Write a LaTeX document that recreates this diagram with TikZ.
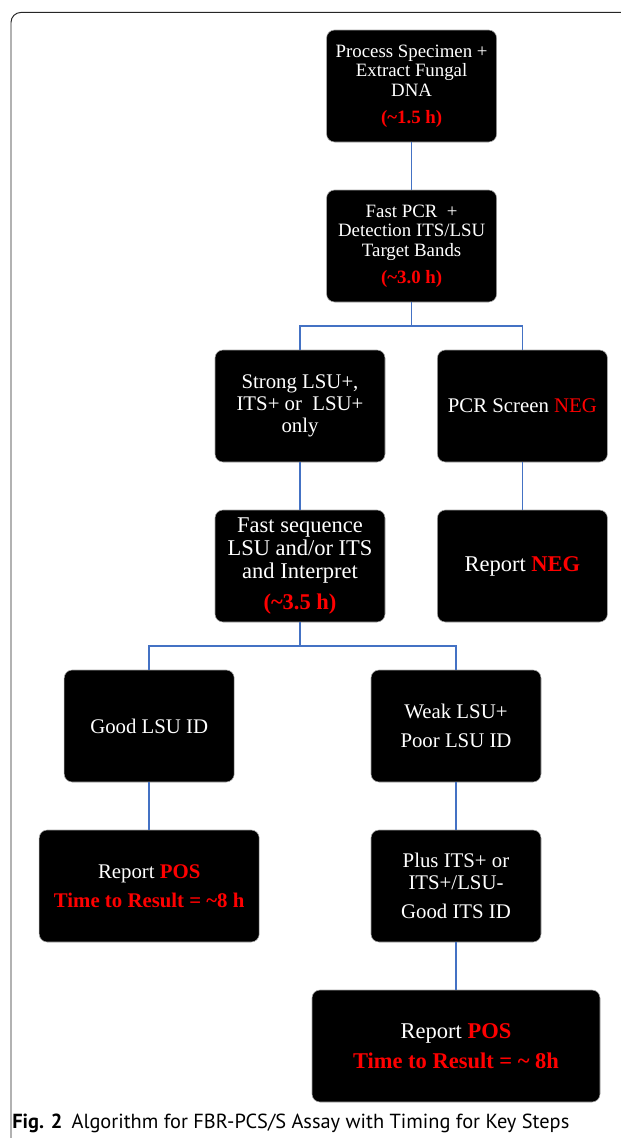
\documentclass[tikz,border=0pt]{standalone}
\usepackage{fontspec}
\setmainfont{Liberation Serif}
\newfontfamily\capfont{PT Sans}
\usetikzlibrary{shapes.geometric, arrows}
\usetikzlibrary{positioning}
\definecolor{linkblue}{HTML}{4472C4}
\definecolor{hotred}{HTML}{FF0000}
\newcommand{\fsTop}{\fontsize{13.4}{13.9}\selectfont}
\newcommand{\fsMid}{\fontsize{14.8}{15.6}\selectfont}
\newcommand{\fsBig}{\fontsize{16}{16.4}\selectfont}
\newcommand{\hrs}[1]{\textcolor{hotred}{\textbf{#1}}}
\tikzstyle{link} = [draw=linkblue, line width=1.25pt]
\tikzstyle{frame} = [draw=black!85, line width=0.7pt, rounded corners=0.25cm]
\tikzstyle{stage} = [rectangle, rounded corners=0.2cm, fill=black, draw=gray!70, line width=0.4pt, minimum width=4.25cm, minimum height=2.8cm, inner sep=0pt, text centered, align=center, text=white]

\begin{document}
\begin{tikzpicture}[node distance=4cm]
    \useasboundingbox (0,0) rectangle (15.525,-28.45);
    \draw [frame] (0.275,-29) -- (0.275,-0.31) -- (16,-0.31);

    \node (SPECIMEN) [stage, font=\fsTop] at (10.29,-2.15) {Process Specimen +\\Extract Fungal\\DNA\\[5pt]\hrs{(\textasciitilde1.5 h)}};
    \node (PCR) [stage, font=\fsTop, below of=SPECIMEN] {Fast PCR\ \ +\\Detection ITS/LSU\\Target Bands\\[5pt]\hrs{(\textasciitilde3.0 h)}};
    \node (STRONG) [stage, font=\fsMid, below of=PCR, xshift=-2.79cm] {Strong LSU+,\\ITS+ or\ \ LSU+\\only};
    \node (SCREENNEG) [stage, font=\fsMid, below of=PCR, xshift=2.77cm] {PCR Screen \textcolor{hotred}{NEG}};
    \node (SEQ) [stage, font=\fsBig, below of=STRONG] {Fast sequence\\LSU and/or ITS\\and Interpret\\[5.5pt]\hrs{(\textasciitilde3.5 h)}};
    \node (REPORTNEG) [stage, font=\fsBig, below of=SCREENNEG] {Report \hrs{NEG}};
    \node (GOODLSU) [stage, font=\fsMid, below of=SEQ, xshift=-3.77cm] {Good LSU ID};
    \node (WEAKLSU) [stage, font=\fsMid, below of=SEQ, xshift=3.9cm] {Weak LSU+\\[5pt]Poor LSU ID};
    \node (REPORTPOS) [stage, font=\fsMid, below of=GOODLSU, minimum width=5.5cm] {Report \hrs{POS}\\[5pt]\hrs{Time to Result = \textasciitilde8 h}};
    \node (PLUSITS) [stage, font=\fsMid, below of=WEAKLSU] {Plus ITS+ or\\ITS+/LSU-\\[5pt]Good ITS ID};
    \node (FINALPOS) [stage, font=\fsBig, below of=PLUSITS, minimum width=7.2cm] {Report \hrs{POS}\\[5pt]\hrs{Time to Result = \textasciitilde\ 8h}};

    \draw [link] (SPECIMEN) -- (PCR);
    \draw [link] (PCR.south) -- ++(0,-0.6) -| (STRONG.north);
    \draw [link] (PCR.south) -- ++(0,-0.6) -| (SCREENNEG.north);
    \draw [link] (STRONG) -- (SEQ);
    \draw [link] (SCREENNEG) -- (REPORTNEG);
    \draw [link] (SEQ.south) -- ++(0,-0.6) -| (GOODLSU.north);
    \draw [link] (SEQ.south) -- ++(0,-0.6) -| (WEAKLSU.north);
    \draw [link] (GOODLSU) -- (REPORTPOS);
    \draw [link] (WEAKLSU) -- (PLUSITS);
    \draw [link] (PLUSITS) -- (FINALPOS);

    \node (CAPTION) [anchor=base west, inner sep=0pt, font=\capfont\fontsize{14.5}{16}\selectfont] at (0.3,-28.2) {\textbf{Fig. 2}\hspace{0.45em}Algorithm for FBR-PCS/S Assay with Timing for Key Steps};
\end{tikzpicture}
\end{document}
